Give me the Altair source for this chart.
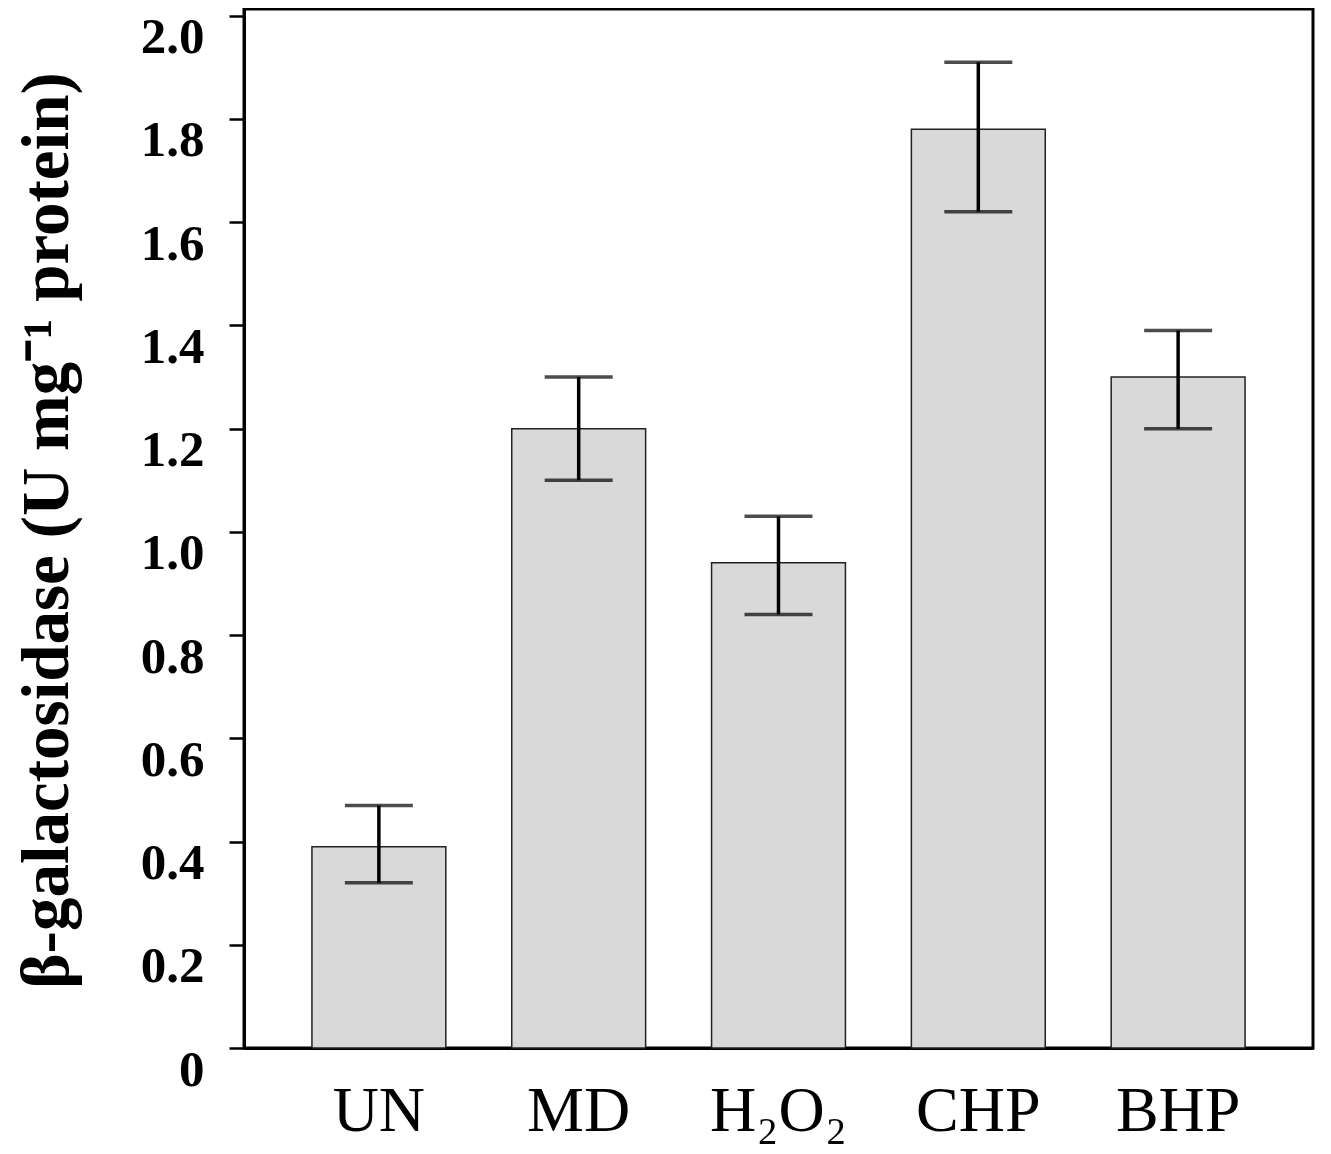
import altair as alt
import pandas as pd

categories = ["UN", "MD", "H₂O₂", "CHP", "BHP"]
values = [0.39, 1.20, 0.94, 1.78, 1.30]
err_low = [0.32, 1.10, 0.84, 1.62, 1.20]
err_high = [0.47, 1.30, 1.03, 1.91, 1.39]
y_ticks = [0, 0.2, 0.4, 0.6, 0.8, 1.0, 1.2, 1.4, 1.6, 1.8, 2.0]

df = pd.DataFrame({"cat": categories, "val": values, "lo": err_low, "hi": err_high})

FONT = "Liberation Serif"

x_enc = alt.X(
    "cat:N",
    sort=categories,
    scale=alt.Scale(paddingInner=0.33, paddingOuter=0.34),
    axis=alt.Axis(
        title=None,
        labelAngle=0,
        ticks=False,
        tickSize=0,
        domain=True,
        domainColor="black",
        domainWidth=3,
        labelFont=FONT,
        labelFontSize=64,
        labelFontWeight="normal",
        labelColor="black",
        labelBaseline="alphabetic",
        labelPadding=82,
    ),
)

y_scale = alt.Scale(domain=[0, 2.013], nice=False, zero=True)

y_enc = alt.Y(
    "val:Q",
    scale=y_scale,
    axis=alt.Axis(
        title="β-galactosidase (U mg⁻¹ protein)",
        values=y_ticks,
        labelExpr="datum.value == 0 ? '0' : format(datum.value, '.1f')",
        grid=False,
        domainColor="black",
        domainWidth=3,
        tickColor="black",
        tickWidth=2.5,
        tickSize=15,
        labelFont=FONT,
        labelFontSize=51,
        labelFontWeight="bold",
        labelColor="black",
        labelPadding=25,
        labelBaseline="alphabetic",
        labelOffset=37,
        titleFont=FONT,
        titleFontSize=67,
        titleFontWeight="bold",
        titleColor="black",
        titleAngle=270,
        titleAlign="center",
        titleBaseline="middle",
        titleX=-197,
        titleY=521,
    ),
)

base = alt.Chart(df)

bars = base.mark_bar(color="#d9d9d9", stroke="#222222", strokeWidth=1.5).encode(x=x_enc, y=y_enc)

rules = base.mark_rule(color="black", strokeWidth=3.5).encode(
    x=alt.X("cat:N", sort=categories),
    y=alt.Y("lo:Q", scale=y_scale),
    y2="hi:Q",
)

cap_lo = base.mark_tick(color="black", orient="horizontal", size=68, thickness=3.5).encode(
    x=alt.X("cat:N", sort=categories),
    y=alt.Y("lo:Q", scale=y_scale),
)
cap_hi = base.mark_tick(color="black", orient="horizontal", size=68, thickness=3.5).encode(
    x=alt.X("cat:N", sort=categories),
    y=alt.Y("hi:Q", scale=y_scale),
)

chart = (
    alt.layer(bars, rules, cap_lo, cap_hi)
    .properties(
        width=1069,
        height=1039,
        background="white",
        autosize=alt.AutoSizeParams(type="none"),
        padding={"left": 236, "top": 1, "right": 10, "bottom": 98},
    )
    .configure_view(stroke="black", strokeWidth=3)
)

chart.save("out.html", embed_options={"renderer": "svg", "actions": False})
